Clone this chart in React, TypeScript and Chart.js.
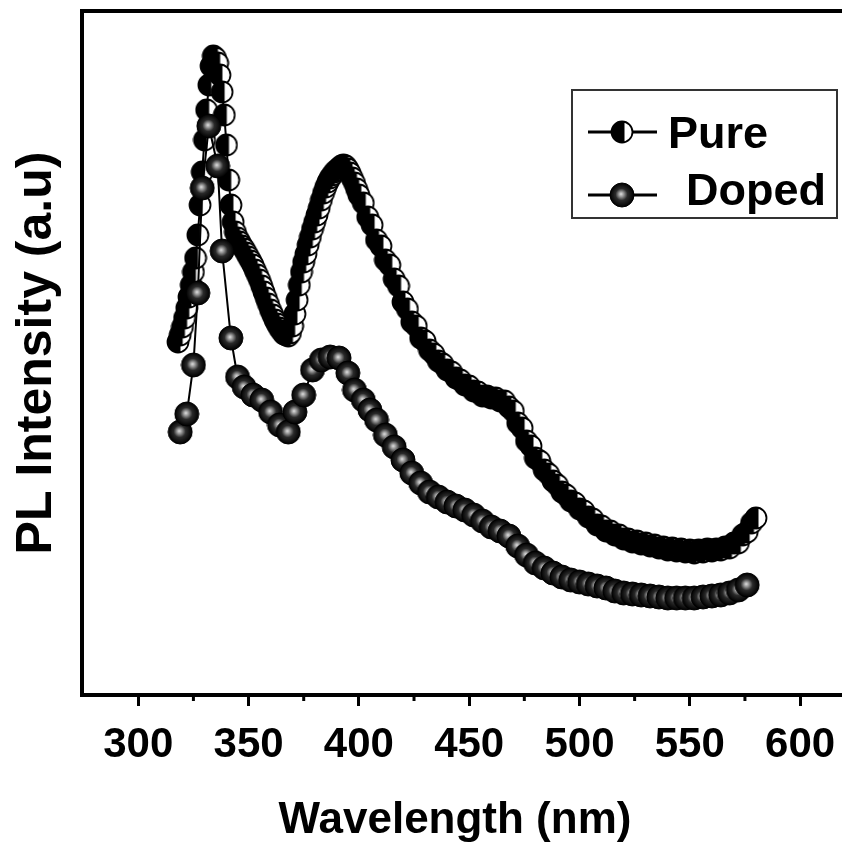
import { useEffect, useRef } from 'react';
import { Chart, registerables } from 'chart.js';

Chart.register(...registerables);

// ---------- data ----------
const pureWavelength = [
  318, 319, 320, 321, 322, 323, 324, 325, 326, 327,
  328, 329, 330, 331, 332, 333, 334, 335, 336, 337,
  338, 339, 340, 341, 342, 343, 344, 345, 346, 347,
  348, 349, 350, 351, 352, 353, 354, 355, 356, 357,
  358, 359, 360, 361, 362, 363, 364, 365, 366, 367,
  368, 369, 370, 371, 372, 373, 374, 375, 376, 377,
  378, 379, 380, 381, 382, 383, 384, 385, 386, 387,
  388, 389, 390, 391, 392, 393, 394, 395, 396, 397,
  398, 399, 400,
  402, 404, 406, 408, 410, 412, 414, 416, 418, 420,
  422, 424, 426, 428, 430, 432, 434, 436, 438, 440,
  442, 444, 446, 448, 450, 452, 454, 456, 458, 460,
  462, 464, 466, 468, 470, 472, 474, 476, 478, 480,
  482, 484, 486, 488, 490, 492, 494, 496, 498, 500,
  502, 504, 506, 508, 510, 512, 514, 516, 518, 520,
  522, 524, 526, 528, 530, 532, 534, 536, 538, 540,
  542, 544, 546, 548, 550, 552, 554, 556, 558, 560,
  562, 564, 566, 568, 570, 572, 574, 576, 578, 580,
];

const pureIntensity = [
  706, 720, 736, 754, 774, 796, 820, 846, 874, 920,
  980, 1046, 1110, 1170, 1220, 1258, 1278, 1274, 1264, 1240,
  1206, 1160, 1100, 1030, 980, 946, 926, 914, 906, 898,
  892, 884, 876, 868, 860, 850, 840, 830, 818, 806,
  794, 782, 770, 760, 750, 742, 734, 728, 722, 720,
  718, 724, 738, 762, 790, 820, 846, 866, 882, 900,
  916, 932, 946, 960, 974, 990, 1004, 1016, 1026, 1034,
  1040, 1046, 1050, 1054, 1058, 1060, 1058, 1052, 1044, 1034,
  1024, 1012, 1000,
  984, 956, 940, 910, 898, 870, 860, 832, 818, 786,
  772, 746, 738, 714, 708, 690, 682, 668, 662, 650,
  646, 634, 630, 620, 618, 608, 606, 598, 598, 594,
  594, 588, 588, 576, 568, 544, 534, 508, 498, 474,
  468, 450, 442, 428, 420, 406, 400, 388, 384, 372,
  368, 356, 352, 340, 338, 328, 328, 320, 320, 312,
  312, 306, 308, 302, 304, 298, 300, 294, 296, 290,
  294, 288, 292, 286, 290, 284, 290, 286, 292, 288,
  292, 290, 296, 294, 304, 304, 320, 326, 344, 354,
];

const dopedWavelength = [
  319, 322, 325, 327, 329, 332, 336, 338, 342, 345,
  348, 352, 356, 360, 364, 368, 371, 375, 379, 383,
  387, 391, 395, 398, 402, 405, 408, 412, 416, 420,
  424, 428, 432, 436, 440, 444, 448, 452, 456, 460,
  464, 468, 472, 476, 480, 484, 488, 492, 496, 500,
  504, 508, 512, 516, 520, 524, 528, 532, 536, 540,
  544, 548, 552, 556, 560, 564, 568, 572, 576,
];

const dopedIntensity = [
  526, 562, 660, 804, 1014, 1138, 1058, 888, 714, 636,
  616, 600, 590, 566, 540, 526, 566, 600, 650, 670,
  676, 674, 644, 610, 590, 570, 550, 520, 496, 470,
  444, 424, 406, 396, 386, 378, 370, 360, 348, 336,
  328, 318, 298, 280, 264, 254, 244, 236, 230, 226,
  222, 218, 214, 208, 204, 202, 200, 198, 196, 194,
  194, 194, 194, 196, 198, 200, 204, 210, 220,
];

const xMajorTicks = [300, 350, 400, 450, 500, 550, 600];
const xMinorTicks = [325, 375, 425, 475, 525, 575];
const seriesLabels = ['Pure', 'Doped'];
const xTitle = 'Wavelength (nm)';
const yTitle = 'PL Intensity (a.u)';

const FONT = '"Liberation Sans", Arial, Helvetica, sans-serif';

function makePureMarker(): HTMLCanvasElement {
  const c = document.createElement('canvas');
  c.width = 24;
  c.height = 24;
  const g = c.getContext('2d')!;
  const cx = 12, cy = 12, r = 10.5;
  g.beginPath();
  g.arc(cx, cy, r, 0, Math.PI * 2);
  g.fillStyle = '#ffffff';
  g.fill();
  g.save();
  g.beginPath();
  g.arc(cx, cy, r, 0, Math.PI * 2);
  g.clip();
  g.fillStyle = '#000000';
  g.fillRect(0, 0, cx + 2.5, 24);
  g.restore();
  g.beginPath();
  g.arc(cx, cy, r, 0, Math.PI * 2);
  g.lineWidth = 1.8;
  g.strokeStyle = '#000000';
  g.stroke();
  return c;
}

function makeDopedMarker(): HTMLCanvasElement {
  const c = document.createElement('canvas');
  c.width = 26;
  c.height = 26;
  const g = c.getContext('2d')!;
  const cx = 13, cy = 13, r = 12;
  const grad = g.createRadialGradient(cx - 1, cy - 1, 0, cx, cy, r);
  grad.addColorStop(0, '#e0e0e0');
  grad.addColorStop(0.2, '#9a9a9a');
  grad.addColorStop(0.5, '#2a2a2a');
  grad.addColorStop(1, '#000000');
  g.beginPath();
  g.arc(cx, cy, r, 0, Math.PI * 2);
  g.fillStyle = grad;
  g.fill();
  g.lineWidth = 1;
  g.strokeStyle = '#000000';
  g.stroke();
  return c;
}

export default function App() {
  const canvasRef = useRef<HTMLCanvasElement | null>(null);

  useEffect(() => {
    if (!canvasRef.current) return;
    const pureMarker = makePureMarker();
    const dopedMarker = makeDopedMarker();

    const framePlugin = {
      id: 'frameAndLegend',
      afterDraw(chart: any) {
        const { ctx, chartArea } = chart;
        const xs = chart.scales.x;
        ctx.save();
        // top frame line
        ctx.strokeStyle = '#000';
        ctx.lineWidth = 4;
        ctx.beginPath();
        ctx.moveTo(chartArea.left - 2, chartArea.top);
        ctx.lineTo(chartArea.right, chartArea.top);
        ctx.stroke();
        // minor ticks
        ctx.lineWidth = 3;
        for (const v of xMinorTicks) {
          const px = xs.getPixelForValue(v);
          ctx.beginPath();
          ctx.moveTo(px, chartArea.bottom);
          ctx.lineTo(px, chartArea.bottom + 6);
          ctx.stroke();
        }
        // x-axis title (centred as in the reference figure)
        ctx.fillStyle = '#000';
        ctx.font = `bold 44px ${FONT}`;
        ctx.textAlign = 'center';
        ctx.textBaseline = 'middle';
        ctx.fillText(xTitle, 455, 821);
        // legend
        ctx.strokeStyle = '#333';
        ctx.lineWidth = 2;
        ctx.strokeRect(572, 90, 265, 128);
        const rows = [
          { y: 132, img: pureMarker, label: seriesLabels[0], tx: 668, ty: 148 },
          { y: 195, img: dopedMarker, label: seriesLabels[1], tx: 686, ty: 205 },
        ];
        for (const r of rows) {
          ctx.strokeStyle = '#000';
          ctx.lineWidth = 3;
          ctx.beginPath();
          ctx.moveTo(588, r.y);
          ctx.lineTo(657, r.y);
          ctx.stroke();
          ctx.drawImage(r.img, 622 - r.img.width / 2, r.y - r.img.height / 2);
          ctx.fillStyle = '#000';
          ctx.font = `bold 45px ${FONT}`;
          ctx.textBaseline = 'alphabetic';
          ctx.textAlign = 'left';
          ctx.fillText(r.label, r.tx, r.ty);
        }
        ctx.restore();
      },
    };

    const chart = new Chart(canvasRef.current, {
      type: 'line',
      data: {
        datasets: [
          {
            label: seriesLabels[1],
            data: dopedWavelength.map((x, i) => ({ x, y: dopedIntensity[i] })),
            borderColor: '#000',
            borderWidth: 2,
            pointStyle: dopedMarker as any,
            pointRadius: 12,
            fill: false,
            tension: 0,
            order: 0,
          },
          {
            label: seriesLabels[0],
            data: pureWavelength.map((x, i) => ({ x, y: pureIntensity[i] })),
            borderColor: '#000',
            borderWidth: 2,
            pointStyle: pureMarker as any,
            pointRadius: 11,
            fill: false,
            tension: 0,
            order: 1,
          },
        ],
      },
      options: {
        animation: false,
        responsive: true,
        maintainAspectRatio: false,
        events: [],
        layout: { autoPadding: false, padding: { top: 11, left: 0, right: 0, bottom: 0 } },
        plugins: {
          legend: { display: false },
          tooltip: { enabled: false },
        },
        scales: {
          x: {
            type: 'linear',
            position: 'bottom',
            min: 274.5,
            max: 619,
            afterBuildTicks: (s: any) => {
              s.ticks = xMajorTicks.map((v) => ({ value: v }));
            },
            afterFit: (s: any) => {
              s.height = 153;
              s.paddingLeft = 0;
              s.paddingRight = 0;
            },
            grid: {
              display: true,
              drawOnChartArea: false,
              drawTicks: true,
              tickLength: 11,
              tickWidth: 3,
              tickColor: '#000',
              color: '#000',
            },
            border: { display: true, color: '#000', width: 4 },
            ticks: {
              color: '#000',
              font: { family: FONT, size: 42, weight: 'bold' },
              padding: 14,
              maxRotation: 0,
              autoSkip: false,
            },
            title: { display: false, text: xTitle },
          },
          y: {
            type: 'linear',
            min: 0,
            max: 1368,
            afterFit: (s: any) => {
              s.width = 82;
              s.paddingTop = 0;
              s.paddingBottom = 0;
            },
            ticks: { display: false },
            grid: { display: true, drawOnChartArea: false, drawTicks: false },
            border: { display: true, color: '#000', width: 4 },
            title: {
              display: true,
              text: yTitle,
              color: '#000',
              font: { family: FONT, size: 50, weight: 'bold' },
              padding: { top: 7, bottom: 0 },
            },
          },
        },
      } as any,
      plugins: [framePlugin],
    });

    return () => {
      chart.destroy();
    };
  }, []);

  return (
    <div style={{ position: 'fixed', left: 0, top: 0, width: 842, height: 848, background: '#fff' }}>
      <canvas ref={canvasRef} />
    </div>
  );
}
